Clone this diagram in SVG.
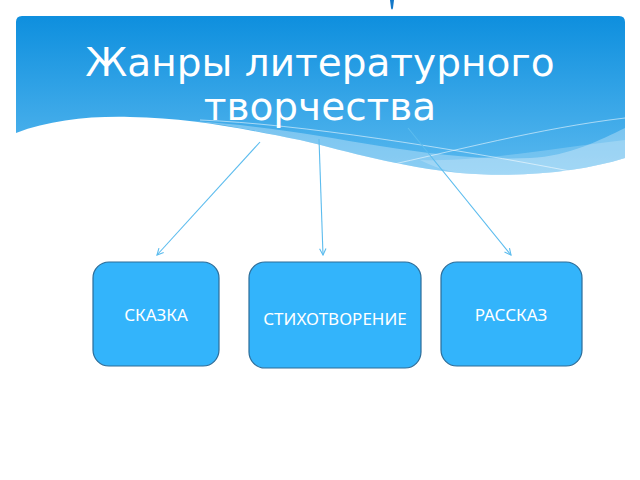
<svg xmlns="http://www.w3.org/2000/svg" width="640" height="480" viewBox="0 0 640 480">
<style>
.title{font-family:"DejaVu Sans","Noto Sans",sans-serif;font-size:39px;fill:#ffffff;text-anchor:middle}
.box{fill:#33b4fb;stroke:#2c6c98;stroke-width:1.2}
.lbl{font-family:"Noto Sans","DejaVu Sans",sans-serif;font-size:17px;fill:#ffffff;text-anchor:middle}
.conn{stroke:#5cbcee;stroke-width:1.1;fill:none}
</style>
<defs>
<linearGradient id="bg" x1="0" y1="16" x2="0" y2="175" gradientUnits="userSpaceOnUse">
<stop offset="0" stop-color="#0e8fde"/>
<stop offset="1" stop-color="#5ab9ef"/>
</linearGradient>
<marker id="arr" viewBox="0 0 10 10" refX="9" refY="5" markerWidth="8" markerHeight="8" orient="auto" markerUnits="userSpaceOnUse">
<path d="M1,1 L9,5 L1,9" fill="none" stroke="#5cbcee" stroke-width="1.4"/>
</marker>
</defs>
<rect width="640" height="480" fill="#ffffff"/>
<g id="pin"><path d="M390,0 L394,0 L393,8 Q392,11 391,8 Z" fill="#1478c8"/></g>
<g id="banner">
<path d="M16,133 C50,120 90,116 130,117 C190,118 240,128 300,140 C350,152 400,167 460,173 C520,178 580,172 625,158 V22 Q625,16 619,16 H22 Q16,16 16,22 Z" fill="url(#bg)"/>
<path d="M190,121 C260,125 320,136 380,146 C430,154 480,160 530,158 C570,156 600,140 625,128 L625,158 C580,172 520,178 460,173 C400,167 350,152 300,140 C260,132 225,124 190,121 Z" fill="#ffffff" fill-opacity="0.3"/>
<path d="M420,160 C480,162 540,150 625,140 L625,158 C580,172 520,178 460,173 C445,171 432,166 420,160 Z" fill="#ffffff" fill-opacity="0.2"/>
<path d="M200,120 C300,124 450,148 575,172" fill="none" stroke="#ffffff" stroke-opacity="0.55" stroke-width="1"/>
<path d="M385,166 C450,152 540,128 625,118" fill="none" stroke="#ffffff" stroke-opacity="0.55" stroke-width="1"/>
<text class="title" x="320" y="76">Жанры литературного</text>
<text class="title" x="320" y="120">творчества</text>
</g>
<g id="connectors">
<line class="conn" x1="260" y1="142" x2="157" y2="255" marker-end="url(#arr)"/>
<line class="conn" x1="319" y1="139" x2="323" y2="255" marker-end="url(#arr)"/>
<line class="conn" x1="408" y1="128" x2="511" y2="255" marker-end="url(#arr)"/>
</g>
<g id="skazka">
<rect class="box" x="93" y="262" width="126" height="104" rx="16"/>
<text class="lbl" x="156" y="321">СКАЗКА</text>
</g>
<g id="stihotvorenie">
<rect class="box" x="249" y="262" width="172" height="106" rx="16"/>
<text class="lbl" x="335" y="325">СТИХОТВОРЕНИЕ</text>
</g>
<g id="rasskaz">
<rect class="box" x="441" y="262" width="141" height="104" rx="16"/>
<text class="lbl" x="511" y="321">РАССКАЗ</text>
</g>
</svg>
